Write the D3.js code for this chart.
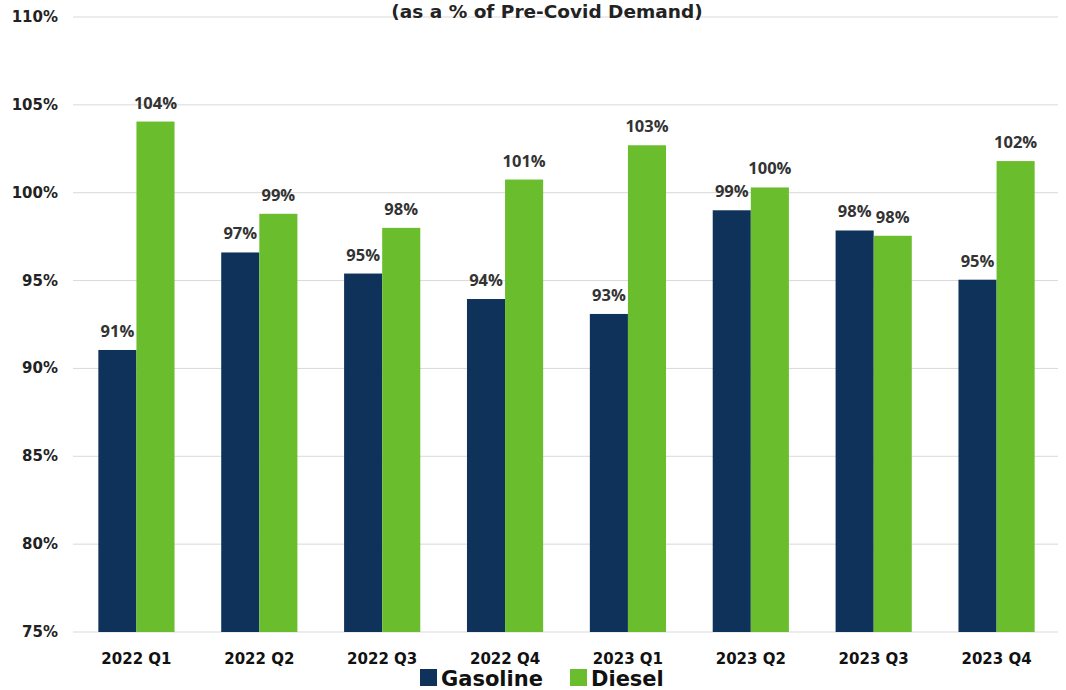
<!DOCTYPE html>
<html><head><meta charset="utf-8">
<script src="https://cdn.jsdelivr.net/npm/d3@7"></script>
<style>body{margin:0;background:#fff}</style>
</head><body>
<svg id="c" width="1066" height="690"></svg>
<script>
const categories = ["2022 Q1","2022 Q2","2022 Q3","2022 Q4","2023 Q1","2023 Q2","2023 Q3","2023 Q4"];
const gasoline = [91.05, 96.6, 95.4, 93.95, 93.1, 99.0, 97.85, 95.05];
const diesel   = [104.05, 98.8, 98.0, 100.75, 102.7, 100.3, 97.55, 101.8];
const seriesNames = ["Gasoline","Diesel"];
const colors = ["#0E3259","#6ABD2D"];
const yTicks = [75,80,85,90,95,100,105,110];

const svg = d3.select("#c");
const m = {left:73, right:8, top:17, bottom:58};
const W = 1066, H = 690;
const x = d3.scaleBand().domain(categories).range([m.left+2, W-m.right]).paddingInner(0.38).paddingOuter(0.19);
const xs = d3.scaleBand().domain(seriesNames).range([0, x.bandwidth()]);
const y = d3.scaleLinear().domain([75,110]).range([H-m.bottom, m.top]);
const wide = "'DejaVu Sans', Lato, sans-serif";

// gridlines
svg.append("g").selectAll("line").data(yTicks).join("line")
  .attr("x1", m.left).attr("x2", W-m.right)
  .attr("y1", d=>y(d)).attr("y2", d=>y(d))
  .attr("stroke", "#d9d9d9").attr("stroke-width", 1);

// y labels
svg.append("g").selectAll("text").data(yTicks).join("text")
  .attr("x", 58).attr("y", d=>y(d)+5).attr("text-anchor","end")
  .attr("font-family",wide).attr("font-weight","bold")
  .attr("font-size",15).attr("fill","#222")
  .text(d=>d+"%");

// title
svg.append("text").attr("x", 547).attr("y", 18).attr("text-anchor","middle")
  .attr("font-family",wide).attr("font-weight","bold")
  .attr("font-size",18.5).attr("fill","#222").text("(as a % of Pre-Covid Demand)");

const data = categories.map((c,i)=>({c, vals:[gasoline[i], diesel[i]]}));
const g = svg.append("g").selectAll("g").data(data).join("g")
  .attr("transform", d=>`translate(${x(d.c)},0)`);
g.selectAll("rect").data(d=>d.vals.map((v,j)=>({v, s:seriesNames[j], j}))).join("rect")
  .attr("x", d=>xs(d.s)).attr("width", xs.bandwidth())
  .attr("y", d=>y(d.v)).attr("height", d=>y(75)-y(d.v))
  .attr("fill", d=>colors[d.j]);
g.selectAll("text").data(d=>d.vals.map((v,j)=>({v, s:seriesNames[j], j}))).join("text")
  .attr("x", d=>xs(d.s)+xs.bandwidth()/2).attr("y", d=>y(d.v)-13)
  .attr("text-anchor","middle")
  .attr("font-family","'Open Sans', 'DejaVu Sans', sans-serif").attr("font-weight","bold")
  .attr("font-size",16.5).attr("fill","#333")
  .text(d=>Math.round(d.v)+"%");

// x labels
svg.append("g").selectAll("text").data(categories).join("text")
  .attr("x", d=>x(d)+x.bandwidth()/2).attr("y", 664).attr("text-anchor","middle")
  .attr("font-family",wide).attr("font-weight","bold")
  .attr("font-size",15).attr("fill","#111").text(d=>d);

// legend
const leg = svg.append("g");
const legItems = [{n:"Gasoline", x:420},{n:"Diesel", x:570}];
legItems.forEach((it,i)=>{
  leg.append("rect").attr("x", it.x).attr("y", 669).attr("width",17).attr("height",17).attr("fill",colors[i]);
  leg.append("text").attr("x", it.x+21).attr("y", 686)
    .attr("font-family",wide).attr("font-weight","bold")
    .attr("font-size",21).attr("fill","#111").text(it.n);
});
</script>
</body></html>
